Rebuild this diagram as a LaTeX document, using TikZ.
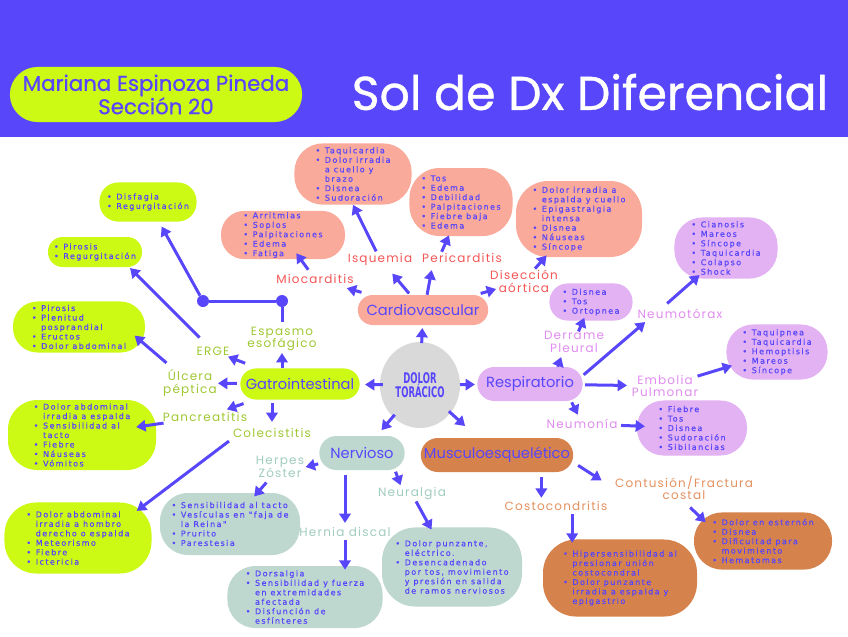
\documentclass[tikz,border=0pt]{standalone}
\usepackage{fontspec}
\setmainfont{Poppins}
\newfontfamily\bulletfamily{DejaVu Sans}[LetterSpace=18,FakeBold=0.6]
\newfontfamily\labelfamily{Poppins}[LetterSpace=10]
\newfontfamily\headfamily{Poppins}[FakeBold=0.8]
\newfontfamily\condfamily{DejaVu Sans}[FakeStretch=0.58]
\usetikzlibrary{arrows.meta,positioning,shapes.misc,shapes.geometric,calc}

\definecolor{ink}{RGB}{88,70,250}
\definecolor{lime}{RGB}{204,250,20}
\definecolor{limetxt}{RGB}{160,200,50}
\definecolor{salmon}{RGB}{250,170,155}
\definecolor{salmontxt}{RGB}{245,85,85}
\definecolor{lilac}{RGB}{226,178,242}
\definecolor{lilactxt}{RGB}{225,140,240}
\definecolor{sage}{RGB}{190,216,208}
\definecolor{sagetxt}{RGB}{160,205,190}
\definecolor{rust}{RGB}{214,130,76}
\definecolor{rusttxt}{RGB}{228,145,95}
\definecolor{ash}{RGB}{217,217,217}

\newcommand{\bl}{\makebox[7pt][l]{\textbullet}}
\newcommand{\bk}{\hspace*{7pt}}

\tikzset{
  arr/.style={draw=ink, line width=2.25pt, -{Triangle[length=7pt,width=8.5pt]}},
  lnk/.style={draw=ink, line width=2.25pt},
  hub/.style={rounded rectangle, inner sep=1pt, text=ink, font=\fontsize{11}{13}\selectfont},
  sub/.style={inner sep=1pt, align=center, font=\labelfamily\fontsize{9}{9.5}\selectfont},
  sym/.style={rectangle, inner sep=1pt, align=left, text=ink, font=\bulletfamily\fontsize{6}{7.1}\selectfont},
  jdot/.style={circle, fill=ink, inner sep=0pt, minimum size=9pt},
}

\begin{document}
\begin{tikzpicture}[x=0.75pt,y=0.75pt,yscale=-1,xscale=1]
	\useasboundingbox (0,0) rectangle (848,636);
	\fill [white] (0,0) rectangle (848,636);
	
	%Shape: Rectangle [header band]
	\fill [ink] (0,0) rectangle (848,137);
	% Text Node
	\draw (156,94.5) node (autor) [rounded rectangle, fill=lime, minimum width=216pt, minimum height=41.3pt, text=ink, align=center, font=\headfamily\fontsize{16}{17.5}\selectfont] {Mariana Espinoza Pineda\\Sección 20};
	% Text Node
	\draw (590,92) node (titulo) [text=white, font=\headfamily\fontsize{35.5}{38}\selectfont] {Sol de Dx Diferencial};
	
	%Shape: Ellipse [centre]
	\draw (420,385) node (cen) [ellipse, fill=ash, minimum width=60pt, minimum height=64.5pt, inner sep=0pt, text=ink, align=center, font=\condfamily\bfseries\fontsize{11}{11}\selectfont] {DOLOR\\TORÁCICO};
	
	%Shape: Rounded Rect [systems]
	\draw (300,384) node (gastro) [hub, fill=lime, minimum width=91.5pt, minimum height=23.3pt] {Gatrointestinal};
	\draw (423,310) node (cardio) [hub, fill=salmon, minimum width=99.8pt, minimum height=22.5pt] {Cardiovascular};
	\draw (530,384) node (resp) [hub, fill=lilac, minimum width=81pt, minimum height=25.5pt] {Respiratorio};
	\draw (362,453) node (nerv) [hub, fill=sage, minimum width=66pt, minimum height=25.5pt] {Nervioso};
	\draw (497,455) node (musc) [hub, fill=rust, minimum width=111.8pt, minimum height=25.5pt] {Musculoesquelético};
	
	% Text Node [gastro]
	\draw (282,339) node (espasmo) [sub, text=limetxt] {Espasmo\\esofágico};
	\draw (213,351) node (erge) [sub, text=limetxt] {ERGE};
	\draw (190,383) node (ulcera) [sub, text=limetxt] {Úlcera\\péptica};
	\draw (205,417) node (pancrea) [sub, text=limetxt] {Pancreatitis};
	\draw (272,433) node (colec) [sub, text=limetxt] {Colecistitis};
	% Text Node [cardio]
	\draw (315,279) node (mioc) [sub, text=salmontxt] {Miocarditis};
	\draw (380,259) node (isq) [sub, text=salmontxt] {Isquemia};
	\draw (462,258) node (peric) [sub, text=salmontxt] {Pericarditis};
	\draw (524,281) node (disec) [sub, text=salmontxt] {Disección\\aórtica};
	% Text Node [resp]
	\draw (574,342) node (derrame) [sub, text=lilactxt] {Derrame\\Pleural};
	\draw (680,314) node (neumot) [sub, text=lilactxt] {Neumotórax};
	\draw (665,386) node (embolia) [sub, text=lilactxt] {Embolia\\Pulmonar};
	\draw (582,424) node (neumon) [sub, text=lilactxt] {Neumonía};
	% Text Node [nerv]
	\draw (280,467) node (herpes) [sub, text=sagetxt] {Herpes\\Zóster};
	\draw (345,532) node (hernia) [sub, text=sagetxt] {Hernia discal};
	\draw (412,494) node (neural) [sub, text=sagetxt] {Neuralgia};
	% Text Node [musc]
	\draw (556,506) node (costo) [sub, text=rusttxt] {Costocondritis};
	\draw (684,488) node (contus) [sub, text=rusttxt] {Contusión/Fractura\\costal};
	
	%Shape: Rounded Rect [symptoms]
	\draw (148,202) node (disfbox) [sym, fill=lime, minimum width=72.8pt, minimum height=29.3pt, rounded corners=14pt] {\bl Disfagia\\\bl Regurgitación};
	\draw (95,252) node (pirbox) [sym, fill=lime, minimum width=70.5pt, minimum height=22.5pt, rounded corners=11pt] {\bl Pirosis\\\bl Regurgitación};
	\draw (79,327) node (ulcbox) [sym, fill=lime, minimum width=99pt, minimum height=38.3pt, rounded corners=18.5pt] {\bl Pirosis\\\bl Plenitud\\\bk posprandial\\\bl Eructos\\\bl Dolor abdominal};
	\draw (82,435) node (pancbox) [sym, fill=lime, minimum width=111pt, minimum height=52.5pt, rounded corners=22pt] {\bl Dolor abdominal\\\bk irradia a espalda\\\bl Sensibilidad al\\\bk tacto\\\bl Fiebre\\\bl Náuseas\\\bl Vómitos};
	\draw (78,538) node (colbox) [sym, fill=lime, minimum width=110.3pt, minimum height=53.3pt, rounded corners=24pt] {\bl Dolor abdominal\\\bk irradia a hombro\\\bk derecho o espalda\\\bl Meteorismo\\\bl Fiebre\\\bl Ictericia};
	\draw (283,235) node (miocbox) [sym, fill=salmon, minimum width=93pt, minimum height=36pt, rounded corners=17.5pt] {\bl Arritmias\\\bl Soplos\\\bl Palpitaciones\\\bl Edema\\\bl Fatiga};
	\draw (353,174) node (isqbox) [sym, fill=salmon, minimum width=87.8pt, minimum height=45.8pt, rounded corners=21pt] {\bl Taquicardia\\\bl Dolor irradia\\\bk a cuello y\\\bk brazo\\\bl Disnea\\\bl Sudoración};
	\draw (461,202) node (pericbox) [sym, fill=salmon, minimum width=77.3pt, minimum height=51pt, rounded corners=22.5pt] {\bl Tos\\\bl Edema\\\bl Debilidad\\\bl Palpitaciones\\\bl Fiebre baja\\\bl Edema};
	\draw (579,219) node (disecbox) [sym, fill=salmon, minimum width=94.5pt, minimum height=57pt, rounded corners=24pt] {\bl Dolor irradia a\\\bk espalda y cuello\\\bl Epigastralgia\\\bk intensa\\\bl Disnea\\\bl Náuseas\\\bl Síncope};
	\draw (591,302) node (derbox) [sym, fill=lilac, minimum width=62.3pt, minimum height=27.8pt, rounded corners=13.5pt] {\bl Disnea\\\bl Tos\\\bl Ortopnea};
	\draw (726,248) node (neumotbox) [sym, fill=lilac, minimum width=77.3pt, minimum height=45.8pt, rounded corners=21pt] {\bl Cianosis\\\bl Mareos\\\bl Síncope\\\bl Taquicardia\\\bl Colapso\\\bl Shock};
	\draw (777,352) node (embbox) [sym, fill=lilac, minimum width=75.8pt, minimum height=41.3pt, rounded corners=20pt] {\bl Taquipnea\\\bl Taquicardia\\\bl Hemoptisis\\\bl Mareos\\\bl Síncope};
	\draw (692,428) node (neumonbox) [sym, fill=lilac, minimum width=82.5pt, minimum height=41.3pt, rounded corners=20pt] {\bl Fiebre\\\bl Tos\\\bl Disnea\\\bl Sudoración\\\bl Sibilancias};
	\draw (230,524) node (herpbox) [sym, fill=sage, minimum width=105pt, minimum height=46.5pt, rounded corners=21pt] {\bl Sensibilidad al tacto\\\bl Vesículas en "faja de\\\bk la Reina"\\\bl Prurito\\\bl Parestesia};
	\draw (305,597) node (hernbox) [sym, fill=sage, minimum width=116.3pt, minimum height=46.5pt, rounded corners=21pt] {\bl Dorsalgia\\\bl Sensibilidad y fuerza\\\bk en extremidades\\\bk afectada\\\bl Disfunción de\\\bk esfínteres};
	\draw (452,567) node (neurbox) [sym, fill=sage, minimum width=105pt, minimum height=59.3pt, rounded corners=25pt] {\bl Dolor punzante,\\\bk eléctrico.\\\bl Desencadenado\\\bk por tos, movimiento\\\bk y presión en salida\\\bk de ramos nerviosos};
	\draw (620,578) node (costbox) [sym, fill=rust, minimum width=115.5pt, minimum height=57.8pt, rounded corners=25pt] {\bl Hipersensibilidad al\\\bk presionar unión\\\bk costocondral\\\bl Dolor punzante\\\bk irradia a espalda y\\\bk epigastrio};
	\draw (763,541) node (contbox) [sym, fill=rust, minimum width=103.5pt, minimum height=42.8pt, rounded corners=21pt] {\bl Dolor en esternón\\\bl Disnea\\\bl Dificultad para\\\bk movimiento\\\bl Hematomas};
	
	%Shape: Circle [junctions]
	\draw (282,301) node (jd1) [jdot] {};
	\draw (203,301) node (jd2) [jdot] {};
	
	%Straight Lines [centre to systems]
	\draw [arr, shorten <=27.8pt, shorten >=48.8pt] (cen.center) -- (gastro.center);
	\draw [arr, shorten <=31.5pt, shorten >=13.5pt] (cen.center) -- (cardio.center);
	\draw [arr, shorten <=30pt, shorten >=41.3pt] (cen.center) -- (resp.center);
	\draw [arr, shorten <=29.3pt, shorten >=22.5pt] (cen.center) -- (nerv.center);
	\draw [arr, shorten <=29.3pt, shorten >=32.3pt] (cen.center) -- (musc.center);
	
	%Straight Lines [gastro]
	\draw [arr, shorten >=10.5pt] (gastro.north -| espasmo.center) -- (espasmo.center);
	\draw [lnk, shorten <=12.8pt] (espasmo.center) -- (jd1);
	\draw [lnk] (jd1) -- (jd2);
	\draw [arr, shorten >=21pt] (jd2) -- (disfbox.center);
	\draw [arr, shorten <=44pt, shorten >=12pt] (gastro.center) -- (erge.center);
	\draw [arr, shorten <=47.3pt, shorten >=21pt] (gastro.center) -- (ulcera.center);
	\draw [arr, shorten <=44.8pt, shorten >=17.3pt] (gastro.center) -- (pancrea.center);
	\draw [arr, shorten <=2.6pt, shorten >=8.3pt] (gastro.south -| colec.center) -- (colec.center);
	\draw [arr, shorten <=14.3pt, shorten >=0.8pt] (erge.center) -- (pirbox.-24);
	\draw [arr, shorten <=23.2pt, shorten >=-10.5pt] (ulcera.center) -- (ulcbox.-15);
	\draw [arr, shorten <=31.4pt, shorten >=41.1pt] (pancrea.center) -- (pancbox.center);
	\draw [arr, shorten <=2.3pt, shorten >=-10.8pt] (colec.south west) -- (colbox.27);
	
	%Straight Lines [cardio]
	\draw [arr, shorten <=48pt, shorten >=24.8pt] (cardio.center) -- (mioc.center);
	\draw [arr, shorten <=16.2pt, shorten >=14.3pt] (cardio.center) -- (isq.center);
	\draw [arr, shorten >=4.5pt] (cardio.75) -- (peric.192);
	\draw [arr, shorten <=45pt, shorten >=21.8pt] (cardio.center) -- (disec.center);
	\draw [arr, shorten <=8.6pt, shorten >=17pt] (mioc.center) -- (miocbox.center);
	\draw [arr, shorten <=6.4pt] (isq.center) -- (isqbox.south);
	\draw [arr, shorten >=-0.8pt] (peric.163) -- (pericbox.250);
	\draw [arr, shorten <=12.4pt, shorten >=36.6pt] (disec.center) -- (disecbox.center);
	
	%Straight Lines [resp]
	\draw [arr, shorten >=2.3pt] (resp.32) -- (derrame.226);
	\draw [arr, shorten <=2.3pt, shorten >=1.9pt] (resp.8) -- (neumot.191);
	\draw [arr, shorten <=41.3pt, shorten >=28.5pt] (resp.center) -- (embolia.center);
	\draw [arr, shorten <=1.5pt, shorten >=2.5pt] (resp.-22) -- (neumon.113);
	\draw [arr, shorten <=8.6pt, shorten >=12.9pt] (derrame.center) -- (derbox.center);
	\draw [arr, shorten <=4.7pt, shorten >=-4.3pt] (neumot.160) -- (neumotbox.225);
	\draw [arr, shorten <=25.5pt, shorten >=35.3pt] (embolia.center) -- (embbox.center);
	\draw [arr, shorten <=29.3pt, shorten >=35.3pt] (neumon.center) -- (neumonbox.center);
	
	%Straight Lines [nerv]
	\draw [arr, shorten <=33.8pt] (nerv.center) -- (herpes.east);
	\draw [arr, shorten <=15.5pt, shorten >=27.5pt] (herpes.center) -- (herpbox.center);
	\draw [arr, shorten <=3.8pt, shorten >=6.8pt] (nerv.south -| hernia.center) -- (hernia.center);
	\draw [arr, shorten <=6pt, shorten >=-3pt] (hernia.center) -- (hernia.center |- hernbox.north);
	\draw [arr, shorten <=2.3pt, shorten >=0.8pt] (nerv.-26) -- (neural.145);
	\draw [arr, shorten <=6.3pt, shorten >=32pt] (neural.center) -- (neurbox.center);
	
	%Straight Lines [musc]
	\draw [arr, shorten <=3.8pt, shorten >=1.5pt] (musc.south -| costo.157) -- (costo.157);
	\draw [arr, shorten <=1.5pt, shorten >=-2.6pt] (costo.-21) -- (costo.-21 |- costbox.north);
	\draw [arr, shorten <=5.3pt, shorten >=10.5pt] (musc.-5) -- (contus.west);
	\draw [arr, shorten <=6.4pt, shorten >=-10.9pt] (contus.south) -- (contbox.157);
	
\end{tikzpicture}
\end{document}
